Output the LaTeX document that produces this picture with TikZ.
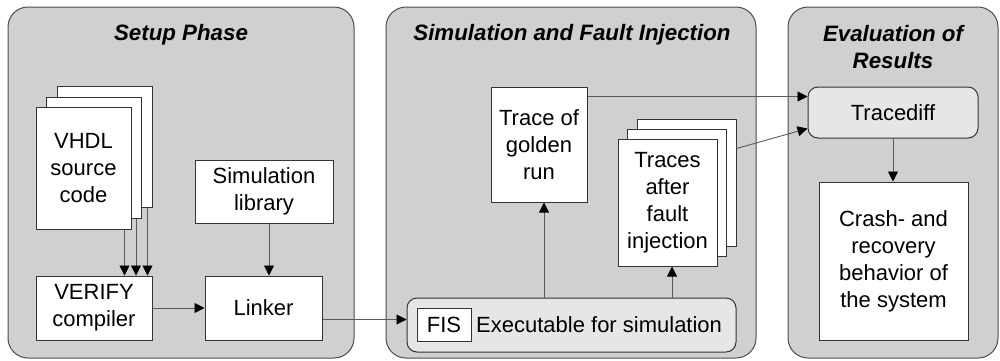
\documentclass[tikz,border=0pt]{standalone}
\usepackage{fontspec}
\setmainfont{Liberation Sans}
\usetikzlibrary{arrows.meta,calc}

\definecolor{panelgray}{RGB}{208,208,208}
\definecolor{softfill}{RGB}{230,230,230}
\definecolor{edgegray}{RGB}{90,90,90}
\newcommand\boxtextfont{\fontsize{22}{27}\selectfont}
\newcommand\paneltitlefont{\fontsize{22.3}{27}\selectfont\bfseries\itshape}

\begin{document}
\begin{tikzpicture}[x=1pt,y=-1pt,
  panel/.style={draw=black!70, line width=1pt, fill=panelgray, rounded corners=20pt},
  ptitle/.style={inner sep=0pt, align=center, font=\paneltitlefont},
  box/.style={draw=black!80, line width=1pt, fill=white, inner sep=0pt,
    align=center, font=\boxtextfont},
  softbox/.style={box, fill=softfill, rounded corners=10pt},
  label/.style={inner sep=0pt, font=\boxtextfont},
  arr/.style={draw=edgegray, line width=0.9pt,
    -{Triangle[length=10pt,width=10pt,fill=black,color=black]}},
  link/.style={draw=edgegray, line width=0.9pt}
]
\useasboundingbox (0,0) rectangle (1000,360);

% three phase panels
\draw[panel] (8,7) rectangle (354,358);
\draw[panel] (386,7) rectangle (756,358);
\draw[panel] (788,7) rectangle (998,358);

\node[ptitle] (t1) at (181,35) {Setup Phase};
\node[ptitle] (t2) at (572,35) {Simulation and Fault Injection};
\node[ptitle] (t3) at (893,47) {Evaluation of\\Results};

% setup phase
\node[box, minimum width=95, minimum height=121] (vhdlC) at (104.5,146.5) {};
\node[box, minimum width=95, minimum height=121] (vhdlB) at (94,157.5) {};
\node[box, minimum width=95, minimum height=122] (vhdl) at (83.5,168) {VHDL\\source\\code};
\node[box, minimum width=138, minimum height=63] (simlib) at (264,191.5) {Simulation\\library};
\node[box, minimum width=116, minimum height=64] (verify) at (94,308) {VERIFY\\compiler};
\node[box, minimum width=117, minimum height=64] (linker) at (263.5,308) {Linker};

% simulation and fault injection
\node[box, minimum width=96, minimum height=115] (golden) at (539,144.5) {Trace of\\golden\\run};
\node[box, minimum width=99, minimum height=127] (tracesC) at (686.5,182.5) {};
\node[box, minimum width=99, minimum height=127] (tracesB) at (677,192.5) {};
\node[box, minimum width=99, minimum height=127] (traces) at (667.5,202.5) {Traces\\after\\fault\\injection};
\node[softbox, minimum width=329, minimum height=54] (exec) at (571.5,325) {};
\node[box, minimum width=54, minimum height=33] (fis) at (444,324.5) {FIS};
\node[label, anchor=west] (execlabel) at (476,325) {Executable for simulation};

% evaluation of results
\node[softbox, minimum width=170, minimum height=51] (tracediff) at (893,112.5) {Tracediff};
\node[box, minimum width=149, minimum height=158] (crash) at (893.5,261)
  {Crash- and\\recovery\\behavior of\\the system};

% connectors
\coordinate (s1) at ([xshift=-7pt]vhdl.south east);
\coordinate (s2) at ([xshift=-6pt]vhdlB.south east);
\coordinate (s3) at ([xshift=-5pt]vhdlC.south east);
\draw[arr] (s1) -- (s1 |- verify.north);
\draw[arr] (s2) -- (s2 |- verify.north);
\draw[arr] (s3) -- (s3 |- verify.north);

\coordinate (sl) at ([xshift=5pt]simlib.south);
\draw[arr] (sl) -- (sl |- linker.north);
\draw[arr] (verify.east) -- (linker.west);

\coordinate (lo) at ([yshift=21pt]linker.south east);
\draw[arr] (lo) -- (lo -| exec.west);

\coordinate (gx) at ([xshift=5pt]golden.south);
\draw[arr] (gx |- exec.north) -- (gx);
\coordinate (tx) at ([xshift=4.5pt]traces.south);
\draw[arr] (tx |- exec.north) -- (tx);

\coordinate (go) at ([yshift=-10pt]golden.north east);
\draw[arr] (go) -- (go -| tracediff.west);
\draw[arr] ([yshift=-30pt]tracesC.north east) -- ([yshift=10pt]tracediff.south west);

\draw[arr] (tracediff.south) -- (tracediff.south |- crash.north);
\end{tikzpicture}
\end{document}
